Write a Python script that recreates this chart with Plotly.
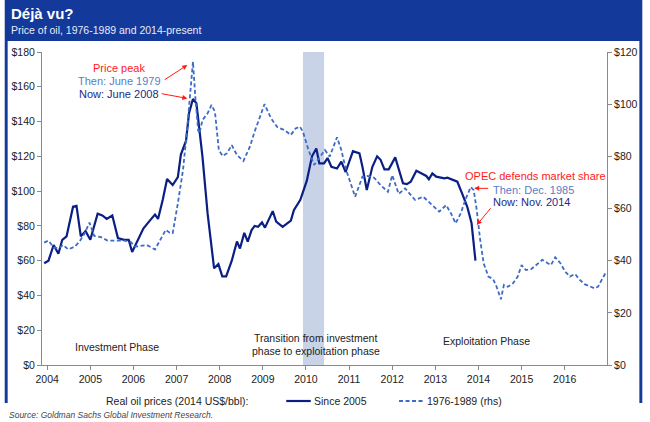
import plotly.graph_objects as go

# ---------------- data ----------------
since2005_x = [2003.93, 2004.03, 2004.15, 2004.26, 2004.35, 2004.45, 2004.60, 2004.68, 2004.78, 2004.89,
               2005.00, 2005.17, 2005.28, 2005.38, 2005.51, 2005.64, 2005.78, 2005.89, 2005.97, 2006.08,
               2006.23, 2006.38, 2006.50, 2006.57, 2006.68, 2006.78, 2006.91, 2007.03, 2007.10, 2007.22,
               2007.29, 2007.38, 2007.46, 2007.60, 2007.72, 2007.87, 2007.97, 2008.06, 2008.15, 2008.28,
               2008.40, 2008.47, 2008.57, 2008.65, 2008.74, 2008.81, 2008.89, 2008.98, 2009.05, 2009.23,
               2009.31, 2009.46, 2009.65, 2009.72, 2009.87, 2010.02, 2010.14, 2010.24, 2010.31, 2010.42,
               2010.50, 2010.59, 2010.72, 2010.82, 2010.92, 2011.09, 2011.24, 2011.31, 2011.41, 2011.54,
               2011.65, 2011.73, 2011.82, 2011.92, 2012.07, 2012.25, 2012.34, 2012.43, 2012.56, 2012.65,
               2012.79, 2012.85, 2012.93, 2013.02, 2013.09, 2013.21, 2013.28, 2013.40, 2013.51, 2013.62,
               2013.74, 2013.84, 2013.93]
since2005_y = [58.5, 60, 69, 64, 72, 74, 91, 91.5, 74, 77,
               72, 87, 86, 84, 86, 73, 72, 72, 65, 71,
               78.5, 83, 86.5, 84, 95, 107, 103.5, 108, 121, 129,
               145, 153, 150.5, 120, 87, 55.6, 58, 51, 51, 60,
               71, 67, 76, 71, 77.6, 80, 79.5, 82, 79, 88.5,
               82.5, 79.5, 83, 89, 95, 106, 120, 124.5, 116, 116,
               119, 114, 113, 117, 111, 123, 121.7, 114, 100.6, 114,
               120, 118, 112.5, 112.5, 119.4, 104.5, 104, 105.4, 111.7, 110.6,
               108.7, 106.8, 110.2, 108.3, 108, 107.3, 107.7, 106.4, 105.4, 98.7,
               91, 81.5, 60]

era7689_x = [2003.93, 2004.03, 2004.15, 2004.26, 2004.37, 2004.49, 2004.64, 2004.75, 2004.87, 2004.98,
             2005.09, 2005.25, 2005.40, 2005.59, 2005.78, 2005.93, 2006.04, 2006.15, 2006.31, 2006.50,
             2006.65, 2006.75, 2006.84, 2006.91, 2007.03, 2007.15, 2007.25, 2007.33, 2007.38, 2007.44,
             2007.50, 2007.53, 2007.60, 2007.72, 2007.81, 2007.89, 2007.98, 2008.07, 2008.17, 2008.28,
             2008.40, 2008.55, 2008.70, 2008.81, 2008.93, 2009.04, 2009.19, 2009.34, 2009.50, 2009.65,
             2009.76, 2009.86, 2009.93, 2010.06, 2010.19, 2010.32, 2010.44, 2010.55, 2010.72, 2010.82,
             2010.92, 2011.14, 2011.31, 2011.43, 2011.58, 2011.73, 2011.90, 2012.00, 2012.15, 2012.30,
             2012.53, 2012.72, 2012.90, 2013.09, 2013.25, 2013.36, 2013.47, 2013.59, 2013.70, 2013.82,
             2013.89, 2013.96, 2014.04, 2014.12, 2014.23, 2014.34, 2014.42, 2014.52, 2014.59, 2014.68,
             2014.80, 2014.91, 2015.00, 2015.10, 2015.22, 2015.33, 2015.48, 2015.59, 2015.68, 2015.78,
             2015.90, 2016.01, 2016.12, 2016.24, 2016.35, 2016.46, 2016.58, 2016.69, 2016.77, 2016.85,
             2016.95]
era7689_y = [46.9, 47.7, 45.1, 44.7, 46, 44.3, 45.4, 47.3, 50.5, 54.6,
             49.5, 49, 47.7, 47.7, 47.7, 47.3, 45.4, 45.6, 46, 44.3,
             48.6, 51.8, 50.7, 50.5, 62, 74.8, 91.4, 108, 116.3, 101.6,
             90, 88.8, 93.9, 96.5, 99.7, 97.1, 82.4, 80.1, 81.2, 84.3,
             80.5, 78.2, 83.7, 89.5, 95.2, 100, 94.6, 91.1, 90.1, 88.2,
             90.7, 91.4, 89.4, 82.4, 76.7, 79.9, 82.4, 79.9, 87.3, 82.4,
             75.4, 64.5, 72.2, 72.5, 71.8, 69, 66.4, 72.8, 65.6, 67.7,
             63.3, 64.5, 61.7, 58.8, 61.3, 58.2, 54.3, 58.2, 63.5, 68.2,
             67, 59.4, 47.9, 39, 33.9, 32.9, 30, 25.2, 30.7, 30,
             31.3, 33.9, 38.3, 36.4, 36.7, 38.3, 40.3, 39.2, 38.3, 41.3,
             39, 35.8, 33.9, 34.9, 32.6, 31, 30.3, 29.4, 30, 32.6,
             35.4]

year_ticks = list(range(2004, 2017))
left_ticks = list(range(0, 181, 20))
right_ticks = list(range(0, 121, 20))
transition_band = [2009.93, 2010.42]

# ---------------- styling ----------------
FONT = "Liberation Sans, Arial, sans-serif"
HEADER = "#13399A"
NAVY = "#0A1E84"
LIGHT = "#3E6BC4"
RED = "#FF1A1A"
THEN_C = "#5A7DC8"
NOW_C = "#1A2A8A"
AX = "#8A8A8A"

W, H = 650, 422
ML, MR, MT, MB = 38, 36, 52, 57
PW, PH = W - ML - MR, H - MT - MB


def px(x):
    return (x - ML) / PW


def py(y):
    return (H - MB - y) / PH


fig = go.Figure()
fig.add_trace(go.Scatter(x=since2005_x, y=since2005_y, mode="lines", name="Since 2005",
                         line=dict(color=NAVY, width=2.2), showlegend=False))
fig.add_trace(go.Scatter(x=era7689_x, y=era7689_y, mode="lines", name="1976-1989 (rhs)", yaxis="y2",
                         line=dict(color=LIGHT, width=1.8, dash="4px,2.5px"), showlegend=False))

shapes = []
# transition band
shapes.append(dict(type="rect", xref="x", yref="paper", x0=transition_band[0], x1=transition_band[1],
                   y0=0, y1=1, fillcolor="#C9D3E8", line=dict(width=0), layer="below"))
# header
shapes.append(dict(type="rect", xref="paper", yref="paper", x0=px(0), x1=px(W), y0=py(41), y1=py(0),
                   fillcolor=HEADER, line=dict(width=0), layer="below"))
# side frame
shapes.append(dict(type="rect", xref="paper", yref="paper", x0=px(0), x1=px(3), y0=py(403), y1=py(41),
                   fillcolor=HEADER, line=dict(width=0), layer="below"))
shapes.append(dict(type="rect", xref="paper", yref="paper", x0=px(647), x1=px(W), y0=py(403), y1=py(41),
                   fillcolor=HEADER, line=dict(width=0), layer="below"))
# legend samples
shapes.append(dict(type="line", xref="paper", yref="paper", x0=px(287), x1=px(312), y0=py(401), y1=py(401),
                   line=dict(color=NAVY, width=2.2)))
shapes.append(dict(type="line", xref="paper", yref="paper", x0=px(402), x1=px(427), y0=py(401), y1=py(401),
                   line=dict(color=LIGHT, width=2, dash="4px,2.5px")))

ann = []


def text(x, y, s, color="#222222", size=11, xanchor="center", **kw):
    ann.append(dict(xref="paper", yref="paper", x=px(x), y=py(y), text=s, showarrow=False,
                    xanchor=xanchor, yanchor="middle", font=dict(family=FONT, size=size, color=color), **kw))


# header text
text(4, 14, "<b>Déjà vu?</b>", color="white", size=15, xanchor="left")
text(4, 30.5, "Price of oil, 1976-1989 and 2014-present", color="#E6EBF7", size=10.5, xanchor="left")

# peak annotations
text(117, 68, "Price peak", color=RED)
text(117, 81.5, "Then: June 1979", color=THEN_C)
text(116, 94, "Now: June 2008", color=NOW_C)
# OPEC annotations
text(467, 176, "OPEC defends market share", color=RED, xanchor="left")
text(496, 189.5, "Then: Dec. 1985", color=THEN_C, xanchor="left")
text(496, 202, "Now: Nov. 2014", color=NOW_C, xanchor="left")

# phase labels
text(114, 347, "Investment Phase", size=10.5)
text(317, 337.5, "Transition from investment", size=10.5)
text(317, 351, "phase to exploitation phase", size=10.5)
text(491, 341, "Exploitation Phase", size=10.5)

# legend texts
text(250, 401, "Real oil prices (2014 US$/bbl):", size=10.5, xanchor="right")
text(313, 401, "Since 2005", size=10.5, xanchor="left")
text(428, 401, "1976-1989 (rhs)", size=10.5, xanchor="left")
text(2, 415, "<i>Source: Goldman Sachs Global Investment Research.</i>", color="#444444", size=8.5,
     xanchor="left")


def arrow(x_tip, y_tip, x_tail, y_tail):
    ann.append(dict(xref="x", yref="y", axref="x", ayref="y", x=x_tip, y=y_tip, ax=x_tail, ay=y_tail,
                    text="", showarrow=True, arrowhead=2, arrowsize=1, arrowwidth=1, arrowcolor=RED))


arrow(2007.25, 172.5, 2006.69, 163.5)
arrow(2007.25, 153.3, 2006.62, 156.2)
arrow(2013.90, 101.6, 2014.26, 101.6)
arrow(2013.96, 80.5, 2014.31, 91)

fig.update_layout(
    width=W, height=H, margin=dict(l=ML, r=MR, t=MT, b=MB, pad=0),
    paper_bgcolor="white", plot_bgcolor="rgba(0,0,0,0)",
    font=dict(family=FONT, size=10.5, color="#333333"),
    shapes=shapes, annotations=ann, showlegend=False,
    xaxis=dict(range=[2003.88, 2016.98], tickmode="array", tickvals=year_ticks,
               ticktext=[str(t) for t in year_ticks], showgrid=False, zeroline=False,
               showline=True, linecolor=AX, linewidth=1, ticks="outside", ticklen=4, tickcolor=AX,
               tickfont=dict(size=10.5, color="#222222")),
    yaxis=dict(range=[0, 180], tickmode="array", tickvals=left_ticks,
               ticktext=[f"${t}" for t in left_ticks], showgrid=False, zeroline=False,
               showline=True, linecolor=AX, linewidth=1, ticks="outside", ticklen=4, tickcolor=AX,
               tickfont=dict(size=10.5, color="#222222")),
    yaxis2=dict(range=[0, 120], overlaying="y", side="right", tickmode="array", tickvals=right_ticks,
                ticktext=[f"${t}" for t in right_ticks], showgrid=False, zeroline=False,
                showline=True, linecolor=AX, linewidth=1, ticks="outside", ticklen=4, tickcolor=AX,
                tickfont=dict(size=10.5, color="#222222")),
)

fig.write_html("out.html")
